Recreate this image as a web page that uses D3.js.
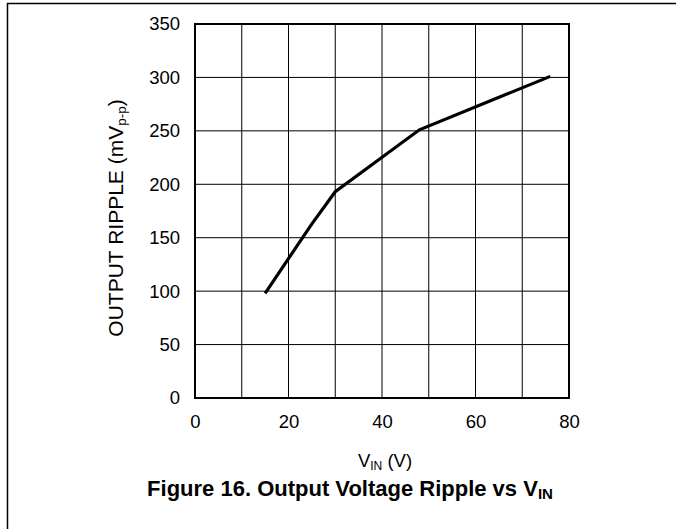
<!DOCTYPE html>
<html>
<head>
<meta charset="utf-8">
<script src="https://cdn.jsdelivr.net/npm/d3@7"></script>
<style>
  html, body { margin: 0; padding: 0; background: #fff; }
  svg { display: block; font-family: "Liberation Sans", Arial, sans-serif; }
</style>
</head>
<body>
<svg id="chart" width="676" height="529"></svg>
<script>
const vin    = [15, 25, 30, 48, 76];
const ripple = [98, 163, 193, 251, 301];
const xTicks = [0, 10, 20, 30, 40, 50, 60, 70, 80];
const xTickLabels = [0, 20, 40, 60, 80];
const yTicks = [0, 50, 100, 150, 200, 250, 300, 350];

const svg = d3.select("#chart");
const L = 195, R = 569, T = 24, B = 398;

const x = d3.scaleLinear().domain([0, 80]).range([L, R]);
const y = d3.scaleLinear().domain([0, 350]).range([B, T]);

// page frame (top and left rules)
svg.append("line").attr("x1", 7).attr("x2", 676).attr("y1", 3.5).attr("y2", 3.5)
  .attr("stroke", "#000").attr("stroke-width", 1.5);
svg.append("line").attr("x1", 7.5).attr("x2", 7.5).attr("y1", 3).attr("y2", 529)
  .attr("stroke", "#000").attr("stroke-width", 1.5);

// grid
const grid = svg.append("g");
grid.selectAll("line.vx").data(xTicks).join("line")
  .attr("x1", d => x(d)).attr("x2", d => x(d)).attr("y1", T).attr("y2", B)
  .attr("stroke", "#000").attr("stroke-width", 1);
grid.selectAll("line.hy").data(yTicks).join("line")
  .attr("x1", L).attr("x2", R).attr("y1", d => y(d)).attr("y2", d => y(d))
  .attr("stroke", "#000").attr("stroke-width", 1);

// frame
svg.append("rect").attr("x", L).attr("y", T).attr("width", R - L).attr("height", B - T)
  .attr("fill", "none").attr("stroke", "#000").attr("stroke-width", 2);

// axes labels via d3 axes
const xAxis = d3.axisBottom(x).tickValues(xTickLabels).tickSize(0).tickPadding(17).tickFormat(d3.format("d"));
const gx = svg.append("g").attr("transform", `translate(0,${B})`).call(xAxis);
gx.select(".domain").remove();
gx.selectAll("text").attr("font-size", 18.5).attr("fill", "#000").attr("font-family", "Liberation Sans, Arial, sans-serif");

const yAxis = d3.axisLeft(y).tickValues(yTicks).tickSize(0).tickPadding(15).tickFormat(d3.format("d"));
const gy = svg.append("g").attr("transform", `translate(${L},0)`).call(yAxis);
gy.select(".domain").remove();
gy.selectAll("text").attr("font-size", 18.5).attr("fill", "#000").attr("font-family", "Liberation Sans, Arial, sans-serif");

// curve
const line = d3.line().x((d, i) => x(vin[i])).y(d => y(d));
svg.append("path").datum(ripple).attr("d", line)
  .attr("fill", "none").attr("stroke", "#000").attr("stroke-width", 3.2)
  .attr("stroke-linejoin", "miter").attr("stroke-linecap", "butt");

// x title
const xt = svg.append("text").attr("x", 385).attr("y", 467).attr("text-anchor", "middle")
  .attr("font-size", 18.5).attr("fill", "#000");
xt.append("tspan").text("V");
xt.append("tspan").attr("font-size", 12).attr("dy", 3).text("IN");
xt.append("tspan").attr("dy", -3).text(" (V)");

// y title
const yt = svg.append("text").attr("transform", "translate(123,218) rotate(-90)")
  .attr("text-anchor", "middle").attr("font-size", 21).attr("fill", "#000");
yt.append("tspan").text("OUTPUT RIPPLE (mV");
yt.append("tspan").attr("font-size", 13.5).attr("dy", 3).text("p-p");
yt.append("tspan").attr("dy", -3).text(")");

// figure caption
const ft = svg.append("text").attr("x", 350).attr("y", 496).attr("text-anchor", "middle")
  .attr("font-size", 22).attr("font-weight", "bold").attr("fill", "#000");
ft.append("tspan").text("Figure 16. Output Voltage Ripple vs V");
ft.append("tspan").attr("font-size", 15).attr("dy", 3).text("IN");
</script>
</body>
</html>
